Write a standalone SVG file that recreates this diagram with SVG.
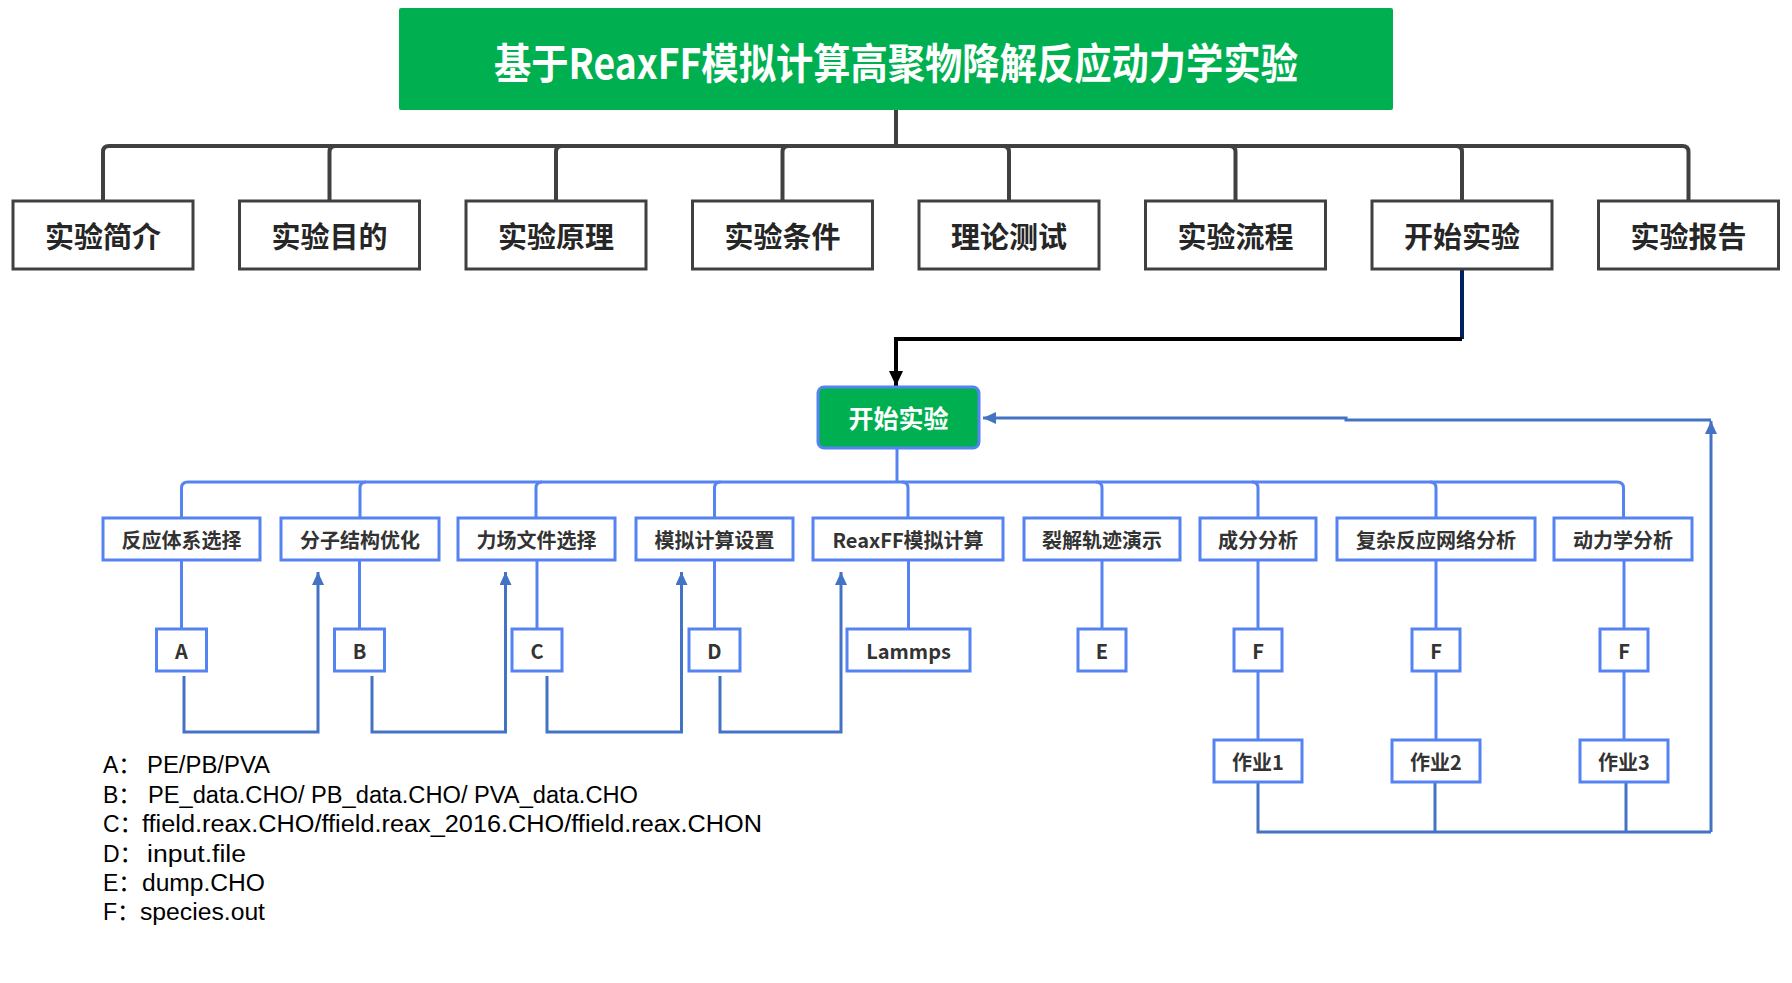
<svg xmlns="http://www.w3.org/2000/svg" width="1792" height="983" viewBox="0 0 1792 983">
<defs>
<style>
.cjk{font-family:"Noto Sans CJK SC","Noto Sans",sans-serif;}
.top rect{fill:#fff;stroke:#404040;stroke-width:3;}
.top text{font-size:29px;font-weight:bold;fill:#262626;text-anchor:middle;dominant-baseline:central;}
.lvl rect{fill:#fff;stroke:#5584F2;stroke-width:3;}
.lvl text{font-size:20px;font-weight:bold;fill:#333;text-anchor:middle;dominant-baseline:central;}
.legend{font-family:"Liberation Sans",Arial,"Noto Sans CJK SC",sans-serif;font-size:23px;fill:#000;}
.gray{fill:none;stroke:#404040;stroke-width:4;}
.bl{fill:none;stroke:#5584F2;stroke-width:3;}
.fb{fill:none;stroke:#4472C4;stroke-width:3;}
</style>
<marker id="ab" markerUnits="userSpaceOnUse" markerWidth="14" markerHeight="14" refX="13" refY="6" orient="auto">
<path d="M0,0 L13,6 L0,12 Z" fill="#4472C4"/>
</marker>
<marker id="ak" markerUnits="userSpaceOnUse" markerWidth="16" markerHeight="16" refX="15" refY="7" orient="auto">
<path d="M0,0 L15,7 L0,14 Z" fill="#000"/>
</marker>
</defs>
<rect width="1792" height="983" fill="#fff"/>

<g id="connectors">
<!-- top tree -->
<path class="gray" d="M896,110 V146"/>
<path class="gray" d="M109,146 H1683"/>
<path class="gray" d="M109,146 Q103,146 103,152 V201"/>
<path class="gray" d="M335.5,146 Q329.5,146 329.5,152 V201"/>
<path class="gray" d="M562,146 Q556,146 556,152 V201"/>
<path class="gray" d="M788.5,146 Q782.5,146 782.5,152 V201"/>
<path class="gray" d="M1003,146 Q1009,146 1009,152 V201"/>
<path class="gray" d="M1229.5,146 Q1235.5,146 1235.5,152 V201"/>
<path class="gray" d="M1456,146 Q1462,146 1462,152 V201"/>
<path class="gray" d="M1682.5,146 Q1688.5,146 1688.5,152 V201"/>
<!-- to start node -->
<path d="M1462,270 V339" fill="none" stroke="#002060" stroke-width="4"/>
<path d="M1462,339 H896 V386" fill="none" stroke="#000" stroke-width="4" marker-end="url(#ak)"/>
<!-- second tree -->
<path class="bl" d="M897,448 V482"/>
<path class="bl" d="M188,482 H1617"/>
<path class="bl" d="M188,482 Q181.5,482 181.5,488 V518"/>
<path class="bl" d="M366,482 Q360,482 360,488 V518"/>
<path class="bl" d="M542,482 Q536,482 536,488 V518"/>
<path class="bl" d="M720.5,482 Q714.5,482 714.5,488 V518"/>
<path class="bl" d="M902,482 Q908,482 908,488 V518"/>
<path class="bl" d="M1096,482 Q1102,482 1102,488 V518"/>
<path class="bl" d="M1252,482 Q1258,482 1258,488 V518"/>
<path class="bl" d="M1430,482 Q1436,482 1436,488 V518"/>
<path class="bl" d="M1617,482 Q1623.5,482 1623.5,488 V518"/>
<!-- down to letter boxes -->
<path class="bl" d="M181.5,560 V629"/>
<path class="bl" d="M359.5,560 V629"/>
<path class="bl" d="M537,560 V629"/>
<path class="bl" d="M714.5,560 V629"/>
<path class="bl" d="M908.5,560 V629"/>
<path class="bl" d="M1102,560 V629"/>
<path class="bl" d="M1258,560 V629"/>
<path class="bl" d="M1436,560 V629"/>
<path class="bl" d="M1624,560 V629"/>
<path class="bl" d="M1258,671 V740"/>
<path class="bl" d="M1436,671 V740"/>
<path class="bl" d="M1624,671 V740"/>
<!-- feedback to next step -->
<path class="fb" d="M184,676 V732 H318 V572" marker-end="url(#ab)"/>
<path class="fb" d="M372,676 V732 H505.5 V572" marker-end="url(#ab)"/>
<path class="fb" d="M547,676 V732 H681.5 V572" marker-end="url(#ab)"/>
<path class="fb" d="M720,676 V732 H841 V572" marker-end="url(#ab)"/>
<!-- homework loop back -->
<path class="fb" d="M1258,782 V832 H1711"/>
<path class="fb" d="M1435,782 V832"/>
<path class="fb" d="M1626,782 V832"/>
<path class="fb" d="M1711,832 V421" marker-end="url(#ab)"/>
<path class="fb" d="M1711,420 H1346 V418 H983" marker-end="url(#ab)"/>
</g>

<g id="title">
<rect x="399" y="8" width="994" height="102" fill="#00B050" rx="2"/>
<text class="cjk" x="896" y="60" font-size="42" font-weight="bold" fill="#fff" text-anchor="middle" dominant-baseline="central" textLength="804" lengthAdjust="spacingAndGlyphs">基于ReaxFF模拟计算高聚物降解反应动力学实验</text>
</g>

<g id="n-intro" class="top cjk"><rect x="13" y="201" width="180" height="68"/><text x="103" y="235">实验简介</text></g>
<g id="n-goal" class="top cjk"><rect x="239.5" y="201" width="180" height="68"/><text x="329.5" y="235">实验目的</text></g>
<g id="n-principle" class="top cjk"><rect x="466" y="201" width="180" height="68"/><text x="556" y="235">实验原理</text></g>
<g id="n-condition" class="top cjk"><rect x="692.5" y="201" width="180" height="68"/><text x="782.5" y="235">实验条件</text></g>
<g id="n-theory" class="top cjk"><rect x="919" y="201" width="180" height="68"/><text x="1009" y="235">理论测试</text></g>
<g id="n-flow" class="top cjk"><rect x="1145.5" y="201" width="180" height="68"/><text x="1235.5" y="235">实验流程</text></g>
<g id="n-start" class="top cjk"><rect x="1372" y="201" width="180" height="68"/><text x="1462" y="235">开始实验</text></g>
<g id="n-report" class="top cjk"><rect x="1598.5" y="201" width="180" height="68"/><text x="1688.5" y="235">实验报告</text></g>

<g id="start-node" class="cjk">
<rect x="818" y="387" width="161" height="61" rx="6" fill="#00B050" stroke="#5584F2" stroke-width="3"/>
<text x="898.5" y="417" font-size="25" font-weight="bold" fill="#fff" text-anchor="middle" dominant-baseline="central">开始实验</text>
</g>

<g id="s1" class="lvl cjk"><rect x="103" y="518" width="157" height="42"/><text x="181.5" y="539">反应体系选择</text></g>
<g id="s2" class="lvl cjk"><rect x="281" y="518" width="158" height="42"/><text x="360" y="539">分子结构优化</text></g>
<g id="s3" class="lvl cjk"><rect x="458" y="518" width="157" height="42"/><text x="536.5" y="539">力场文件选择</text></g>
<g id="s4" class="lvl cjk"><rect x="636" y="518" width="157" height="42"/><text x="714.5" y="539">模拟计算设置</text></g>
<g id="s5" class="lvl cjk"><rect x="813" y="518" width="190" height="42"/><text x="908" y="539">ReaxFF模拟计算</text></g>
<g id="s6" class="lvl cjk"><rect x="1024" y="518" width="156" height="42"/><text x="1102" y="539">裂解轨迹演示</text></g>
<g id="s7" class="lvl cjk"><rect x="1200" y="518" width="116" height="42"/><text x="1258" y="539">成分分析</text></g>
<g id="s8" class="lvl cjk"><rect x="1337" y="518" width="198" height="42"/><text x="1436" y="539">复杂反应网络分析</text></g>
<g id="s9" class="lvl cjk"><rect x="1554" y="518" width="138" height="42"/><text x="1623" y="539">动力学分析</text></g>

<g id="fA" class="lvl cjk"><rect x="156.5" y="629" width="50" height="42"/><text x="181.5" y="650">A</text></g>
<g id="fB" class="lvl cjk"><rect x="334.5" y="629" width="50" height="42"/><text x="359.5" y="650">B</text></g>
<g id="fC" class="lvl cjk"><rect x="512" y="629" width="50" height="42"/><text x="537" y="650">C</text></g>
<g id="fD" class="lvl cjk"><rect x="689" y="629" width="51" height="42"/><text x="714.5" y="650">D</text></g>
<g id="fL" class="lvl cjk"><rect x="847" y="629" width="123" height="42"/><text x="908.5" y="650">Lammps</text></g>
<g id="fE" class="lvl cjk"><rect x="1078" y="629" width="48" height="42"/><text x="1102" y="650">E</text></g>
<g id="fF1" class="lvl cjk"><rect x="1234" y="629" width="48" height="42"/><text x="1258" y="650">F</text></g>
<g id="fF2" class="lvl cjk"><rect x="1412" y="629" width="48" height="42"/><text x="1436" y="650">F</text></g>
<g id="fF3" class="lvl cjk"><rect x="1600" y="629" width="48" height="42"/><text x="1624" y="650">F</text></g>

<g id="hw1" class="lvl cjk"><rect x="1214" y="740" width="88" height="42"/><text x="1258" y="761">作业1</text></g>
<g id="hw2" class="lvl cjk"><rect x="1392" y="740" width="88" height="42"/><text x="1436" y="761">作业2</text></g>
<g id="hw3" class="lvl cjk"><rect x="1580" y="740" width="88" height="42"/><text x="1624" y="761">作业3</text></g>

<g id="legend" class="legend">
<text x="103" y="773">A：</text><text x="147" y="773" textLength="123" lengthAdjust="spacingAndGlyphs">PE/PB/PVA</text>
<text x="103" y="803">B：</text><text x="148" y="803" textLength="490" lengthAdjust="spacingAndGlyphs">PE_data.CHO/ PB_data.CHO/ PVA_data.CHO</text>
<text x="103" y="832">C：</text><text x="142" y="832" textLength="620" lengthAdjust="spacingAndGlyphs">ffield.reax.CHO/ffield.reax_2016.CHO/ffield.reax.CHON</text>
<text x="103" y="862">D：</text><text x="147" y="862" textLength="99" lengthAdjust="spacingAndGlyphs">input.file</text>
<text x="103" y="891">E：</text><text x="142" y="891" textLength="123" lengthAdjust="spacingAndGlyphs">dump.CHO</text>
<text x="103" y="920">F：</text><text x="140" y="920" textLength="125" lengthAdjust="spacingAndGlyphs">species.out</text>
</g>
</svg>
